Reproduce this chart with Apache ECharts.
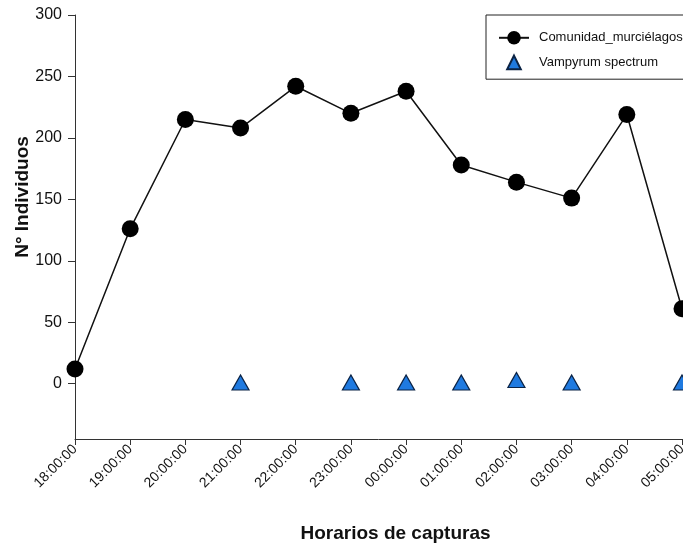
<!DOCTYPE html>
<html>
<head>
<meta charset="utf-8">
<script src="https://cdn.jsdelivr.net/npm/echarts@6/dist/echarts.min.js"></script>
<style>
  html, body { margin: 0; padding: 0; background: #fff; }
  #chart { width: 683px; height: 543px; }
</style>
</head>
<body>
<div id="chart"></div>
<script>
const horas = ['18:00:00', '19:00:00', '20:00:00', '21:00:00', '22:00:00', '23:00:00',
  '00:00:00', '01:00:00', '02:00:00', '03:00:00', '04:00:00', '05:00:00']
const comunidad = [12, 126, 215, 208, 242, 220, 238, 178, 164, 151, 219, 61]
const vampyrum = [null, null, null, 1, null, 1, 1, 1, 3, 1, null, 1]
const yTicks = [0, 50, 100, 150, 200, 250, 300]

const font = 'Liberation Sans, Arial, sans-serif'
const chart = echarts.init(document.getElementById('chart'))

chart.setOption({
  backgroundColor: '#fff',
  animation: false,
  textStyle: { fontFamily: font },
  grid: { left: 75, right: 1, top: 15, bottom: 104, outerBoundsMode: 'none', containLabel: false },
  legend: {
    orient: 'vertical',
    left: 486,
    top: 15,
    padding: [16, 60, 9, 12],
    itemGap: 10,
    itemWidth: 30,
    itemHeight: 17,
    borderColor: '#222',
    borderWidth: 1,
    textStyle: { fontFamily: font, fontSize: 13, color: '#111', padding: [0, 0, 0, 5] },
    data: ['Comunidad_murciélagos', 'Vampyrum spectrum']
  },
  xAxis: {
    type: 'category',
    data: horas,
    boundaryGap: false,
    name: 'Horarios de capturas',
    nameLocation: 'middle',
    nameGap: 85,
    nameTextStyle: { fontFamily: font, fontSize: 19, fontWeight: 'bold', color: '#111', padding: [0, 0, 0, 34] },
    axisLine: { onZero: false, lineStyle: { color: '#333', width: 1 } },
    axisTick: { alignWithLabel: true, length: 6, lineStyle: { color: '#333' } },
    axisLabel: { rotate: 45, fontSize: 14, color: '#111', margin: 8, interval: 0 },
    splitLine: { show: false }
  },
  yAxis: {
    type: 'value',
    min: -45,
    max: 300,
    name: 'N° Individuos',
    nameLocation: 'middle',
    nameGap: 43,
    nameMoveOverlap: false,
    nameTextStyle: { fontFamily: font, fontSize: 19, fontWeight: 'bold', color: '#111', padding: [0, 0, 0, 60] },
    axisLine: { show: true, lineStyle: { color: '#333', width: 1 } },
    axisTick: { show: true, length: 7, customValues: yTicks, lineStyle: { color: '#333' } },
    axisLabel: { fontSize: 16, color: '#111', margin: 13, customValues: yTicks },
    splitLine: { show: false }
  },
  series: [
    {
      name: 'Comunidad_murciélagos',
      type: 'line',
      data: comunidad,
      symbol: 'circle',
      symbolSize: 17,
      itemStyle: { color: '#000' },
      lineStyle: { color: '#111', width: 1.5 }
    },
    {
      name: 'Vampyrum spectrum',
      type: 'line',
      data: vampyrum,
      symbol: 'triangle',
      symbolSize: [17, 15],
      showAllSymbol: true,
      lineStyle: { width: 0 },
      itemStyle: { color: '#1f7ae0', borderColor: '#0b2345', borderWidth: 1.2 }
    }
  ]
})
</script>
</body>
</html>
